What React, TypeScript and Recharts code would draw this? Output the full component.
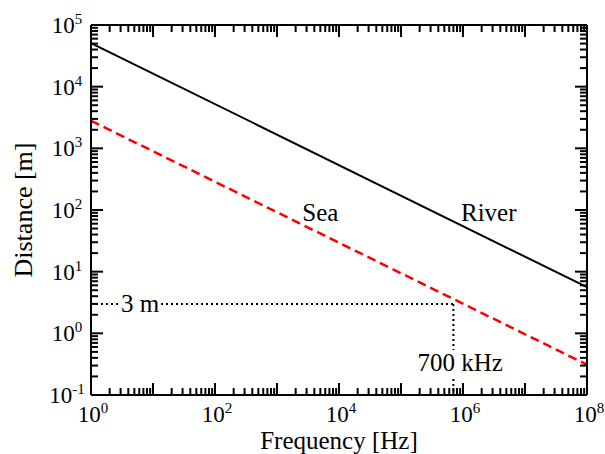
import React from "react"
import { LineChart, Line, XAxis, YAxis, ReferenceLine, ReferenceDot } from "recharts"

// values (log-log, endpoints of each straight line)
const frequency = [1, 1e8]
const riverDistance = [5.1e4, 5.6]
const seaDistance = [2.8e3, 0.31]

const xDomain = [1, 1e8]
const yDomain = [0.1, 1e5]
const xLabelExponents = [0, 2, 4, 6, 8]
const yLabelExponents = [-1, 0, 1, 2, 3, 4, 5]

// the 3 m / 700 kHz marker
const markFrequency = 7e5
const markDistance = 3
const markDistanceText = "3 m"
const markFrequencyText = "700 kHz"
const markTextFrequency = 6.2
const markTextDistance = 0.33
const markTextFreqPos = 9e5

const seriesNames = ["River", "Sea"]
const seriesLabelFrequency = [2.6e6, 5e3]
const seriesLabelDistance = [89, 89]

const FONT = "Liberation Serif, Times New Roman, DejaVu Serif, serif"
const MAJOR = 12
const MINOR = 7

const chartData = frequency.map((f, i) => ({
  f,
  river: riverDistance[i],
  sea: seaDistance[i],
}))

function logTicks(lo: number, hi: number) {
  const out: number[] = []
  for (let e = lo; e < hi; e++) {
    for (let m = 1; m <= 9; m++) out.push(Number((m * Math.pow(10, e)).toPrecision(10)))
  }
  out.push(Math.pow(10, hi))
  return out
}

const isMajor = (v: number) => {
  const l = Math.log10(v)
  return Math.abs(l - Math.round(l)) < 1e-6
}

const txt = { fontFamily: FONT, fill: "#000" }

function Pow({ x, y, exp }: any) {
  return (
    <text x={x} y={y} textAnchor="middle" style={{ ...txt, fontSize: 23 }}>
      10
      <tspan dy={-9} style={{ fontSize: 15 }}>
        {exp}
      </tspan>
    </text>
  )
}

const BottomTick = ({ x, y, payload }: any) => {
  const v = payload.value
  const major = isMajor(v)
  const e = Math.round(Math.log10(v))
  return (
    <g>
      <line x1={x} y1={y} x2={x} y2={y - (major ? MAJOR : MINOR)} stroke="#000" strokeWidth={2} />
      {major && xLabelExponents.includes(e) && <Pow x={x + 2} y={y + 27} exp={e} />}
    </g>
  )
}

const TopTick = ({ x, y, payload }: any) => {
  const major = isMajor(payload.value)
  return <line x1={x} y1={y} x2={x} y2={y + (major ? MAJOR : MINOR)} stroke="#000" strokeWidth={2} />
}

const LeftTick = ({ x, y, payload }: any) => {
  const v = payload.value
  const major = isMajor(v)
  const e = Math.round(Math.log10(v))
  return (
    <g>
      <line x1={x} y1={y} x2={x + (major ? MAJOR : MINOR)} y2={y} stroke="#000" strokeWidth={2} />
      {major && yLabelExponents.includes(e) && <Pow x={x - 24} y={y + 8} exp={e} />}
    </g>
  )
}

const RightTick = ({ x, y, payload }: any) => {
  const major = isMajor(payload.value)
  return <line x1={x} y1={y} x2={x - (major ? MAJOR : MINOR)} y2={y} stroke="#000" strokeWidth={2} />
}

const XTitle = ({ viewBox }: any) => (
  <text x={viewBox.x + viewBox.width / 2} y={viewBox.y + 54} textAnchor="middle" style={{ ...txt, fontSize: 25 }}>
    Frequency [Hz]
  </text>
)

const YTitle = ({ viewBox }: any) => {
  const cx = 32
  const cy = viewBox.y + viewBox.height / 2
  return (
    <text
      x={cx}
      y={cy}
      transform={`rotate(-90, ${cx}, ${cy})`}
      textAnchor="middle"
      style={{ ...txt, fontSize: 26 }}
    >
      Distance [m]
    </text>
  )
}

// text centred on a data point, optionally on a white patch
const Note = ({ viewBox, text, bg }: any) => {
  const cx = viewBox.x + viewBox.width / 2
  const cy = viewBox.y + viewBox.height / 2
  const w = text.length * 12 + 4
  return (
    <g>
      {bg && <rect x={cx - w / 2} y={cy - 13} width={w} height={26} fill="#fff" />}
      <text x={cx} y={cy + 8} textAnchor="middle" style={{ ...txt, fontSize: 25 }}>
        {text}
      </text>
    </g>
  )
}

const xTicks = logTicks(0, 8)
const yTicks = logTicks(-1, 5)

const axisCommon = {
  type: "number" as const,
  scale: "log" as const,
  allowDataOverflow: true,
  interval: 0,
  tickLine: false,
  tickSize: 0,
  tickMargin: 0,
  axisLine: { stroke: "#000", strokeWidth: 2 },
}

export default function App() {
  return (
    <div style={{ position: "absolute", left: 0, top: 0, background: "#fff" }}>
      <LineChart width={605} height={454} data={chartData} margin={{ top: 24, right: 17, left: 0, bottom: 0 }}>
        <XAxis
          {...axisCommon}
          xAxisId="b"
          dataKey="f"
          domain={xDomain}
          ticks={xTicks}
          tick={<BottomTick />}
          height={59}
          label={<XTitle />}
        />
        <XAxis
          {...axisCommon}
          xAxisId="t"
          orientation="top"
          dataKey="f"
          domain={xDomain}
          ticks={xTicks}
          tick={<TopTick />}
          height={1}
        />
        <YAxis
          {...axisCommon}
          yAxisId="l"
          domain={yDomain}
          ticks={yTicks}
          tick={<LeftTick />}
          width={91}
          label={<YTitle />}
        />
        <YAxis
          {...axisCommon}
          yAxisId="r"
          orientation="right"
          domain={yDomain}
          ticks={yTicks}
          tick={<RightTick />}
          width={1}
        />
        <ReferenceLine
          xAxisId="b"
          yAxisId="l"
          segment={[
            { x: xDomain[0], y: markDistance },
            { x: markFrequency, y: markDistance },
          ]}
          stroke="#000"
          strokeWidth={2}
          strokeDasharray="2 3"
        />
        <ReferenceLine
          xAxisId="b"
          yAxisId="l"
          segment={[
            { x: markFrequency, y: markDistance },
            { x: markFrequency, y: yDomain[0] },
          ]}
          stroke="#000"
          strokeWidth={2}
          strokeDasharray="2 3"
        />
        <ReferenceDot
          xAxisId="b"
          yAxisId="l"
          x={markTextFrequency}
          y={markDistance}
          r={0}
          fill="none"
          stroke="none"
          label={<Note text={markDistanceText} bg />}
        />
        <ReferenceDot
          xAxisId="b"
          yAxisId="l"
          x={markTextFreqPos}
          y={markTextDistance}
          r={0}
          fill="none"
          stroke="none"
          label={<Note text={markFrequencyText} bg />}
        />
        {seriesNames.map((name, i) => (
          <ReferenceDot
            key={name}
            xAxisId="b"
            yAxisId="l"
            x={seriesLabelFrequency[i]}
            y={seriesLabelDistance[i]}
            r={0}
            fill="none"
            stroke="none"
            label={<Note text={name} />}
          />
        ))}
        <Line
          xAxisId="b"
          yAxisId="l"
          dataKey="river"
          stroke="#000"
          strokeWidth={2}
          dot={false}
          isAnimationActive={false}
        />
        <Line
          xAxisId="b"
          yAxisId="l"
          dataKey="sea"
          stroke="#ff0000"
          strokeWidth={2.5}
          strokeDasharray="9 5"
          dot={false}
          isAnimationActive={false}
        />
      </LineChart>
    </div>
  )
}
